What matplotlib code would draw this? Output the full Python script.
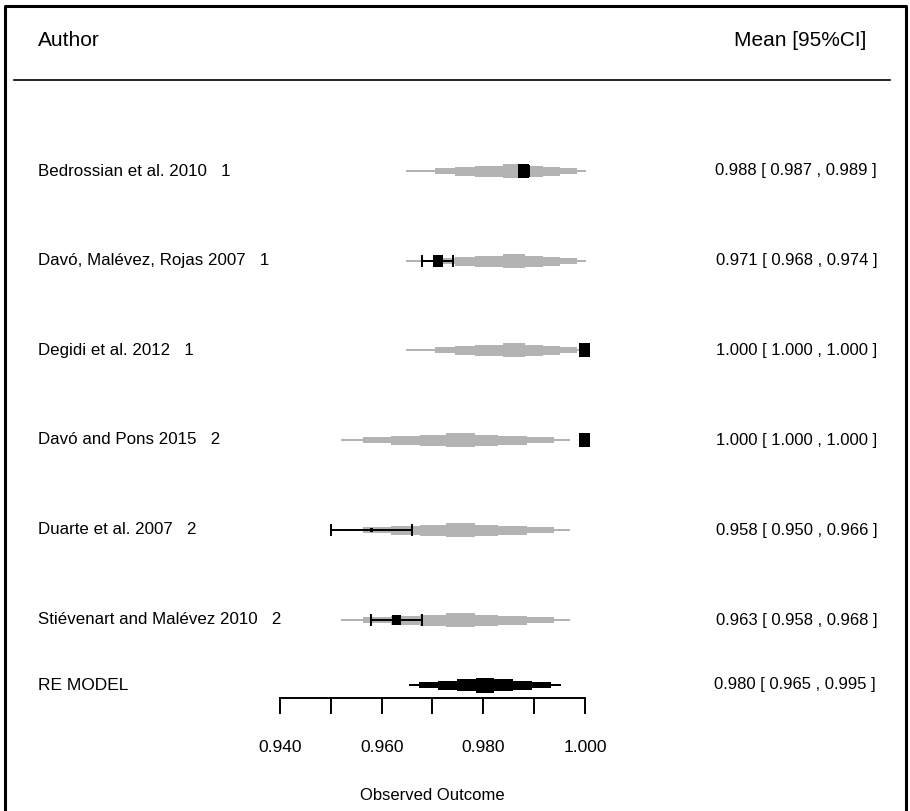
import matplotlib.pyplot as plt
from matplotlib.transforms import blended_transform_factory

plt.rcParams['font.family'] = ['Liberation Sans', 'DejaVu Sans']

authors = ["Bedrossian et al. 2010", "Davó, Malévez, Rojas 2007", "Degidi et al. 2012",
           "Davó and Pons 2015", "Duarte et al. 2007", "Stiévenart and Malévez 2010"]
groups = [1, 1, 1, 2, 2, 2]
means = [0.988, 0.971, 1.000, 1.000, 0.958, 0.963]
lower = [0.987, 0.968, 1.000, 1.000, 0.950, 0.958]
upper = [0.989, 0.974, 1.000, 1.000, 0.966, 0.968]
box_size = [11, 10, 11, 11, 3, 9]   # weight of each study (square side)

# grey predictive bands per group, from innermost to outermost interval
band_lo = {1: [0.9839, 0.9784, 0.9744, 0.9705, 0.9648],
           2: [0.9727, 0.9676, 0.9619, 0.9563, 0.9520]}
band_hi = {1: [0.9882, 0.9917, 0.9951, 0.9985, 1.0002],
           2: [0.9784, 0.9829, 0.9886, 0.9939, 0.9970]}

re_mean, re_lo, re_hi = 0.980, 0.965, 0.995
re_band_lo = [0.9786, 0.9748, 0.9711, 0.9673, 0.9654]
re_band_hi = [0.9821, 0.9858, 0.9896, 0.9933, 0.9953]

band_h = [14, 11, 9, 6, 2.5]
re_h = [15, 12, 9, 6, 2.5]

ticks = [0.94, 0.95, 0.96, 0.97, 0.98, 0.99, 1.00]
tick_labels = ["0.940", "", "0.960", "", "0.980", "", "1.000"]

fig = plt.figure(figsize=(9.1, 8.11), dpi=100)
ax = fig.add_axes([0, 0, 1, 1])
scale = 5083.0  # pixels per unit on x
ax.set_xlim(0.94 - 280 / scale, 0.94 + 630 / scale)
ax.set_ylim(811, 0)
ax.axis('off')
tr = blended_transform_factory(ax.transAxes, ax.transData)

rows_y = [171, 261, 350, 440, 530, 620]
re_y = 685

for i in range(len(authors)):
    y = rows_y[i]
    g = groups[i]
    for k in range(4, -1, -1):
        ax.barh(y, band_hi[g][k] - band_lo[g][k], left=band_lo[g][k], height=band_h[k],
                color='#b3b3b3', edgecolor='none', zorder=1)
    if upper[i] > lower[i]:
        ax.plot([lower[i], upper[i]], [y, y], color='black', lw=1.4, zorder=3)
        for v in (lower[i], upper[i]):
            ax.plot([v, v], [y - 5, y + 5], color='black', lw=1.4, zorder=3)
    s = box_size[i]
    ax.barh(y, s / scale, left=means[i] - s / 2 / scale, height=s * 1.2,
            color='black', zorder=4)
    ax.text(38 / 910, y, f"{authors[i]}   {groups[i]}", transform=tr,
            ha='left', va='center', fontsize=12.2)
    ax.text(877 / 910, y, f"{means[i]:.3f} [ {lower[i]:.3f} , {upper[i]:.3f} ]", transform=tr,
            ha='right', va='center', fontsize=12)

for k in range(4, -1, -1):
    ax.barh(re_y, re_band_hi[k] - re_band_lo[k], left=re_band_lo[k], height=re_h[k],
            color='black', edgecolor='none', zorder=2)
ax.text(38 / 910, re_y, "RE MODEL", transform=tr, ha='left', va='center', fontsize=12.5)
ax.text(876 / 910, re_y, f"{re_mean:.3f} [ {re_lo:.3f} , {re_hi:.3f} ]", transform=tr,
        ha='right', va='center', fontsize=12)

# x axis
ax.plot([ticks[0], ticks[-1]], [698, 698], color='black', lw=1.4)
for t, lab in zip(ticks, tick_labels):
    ax.plot([t, t], [698, 713], color='black', lw=1.4)
    if lab:
        ax.text(t, 748, lab, ha='center', va='center', fontsize=12.5)
ax.text(0.97, 795, "Observed Outcome", ha='center', va='center', fontsize=12)

# header
ax.text(38 / 910, 40, "Author", transform=tr, ha='left', va='center', fontsize=15)
ax.text(866 / 910, 40, "Mean [95%CI]", transform=tr, ha='right', va='center', fontsize=15)
ax.plot([14 / 910, 890 / 910], [80, 80], transform=tr, color='black', lw=1.2)

# frame
ax.plot([5 / 910, 5 / 910, 906 / 910, 906 / 910], [811, 6, 6, 811], transform=tr,
        color='black', lw=2.2)

fig.savefig("out.png", dpi=100)
